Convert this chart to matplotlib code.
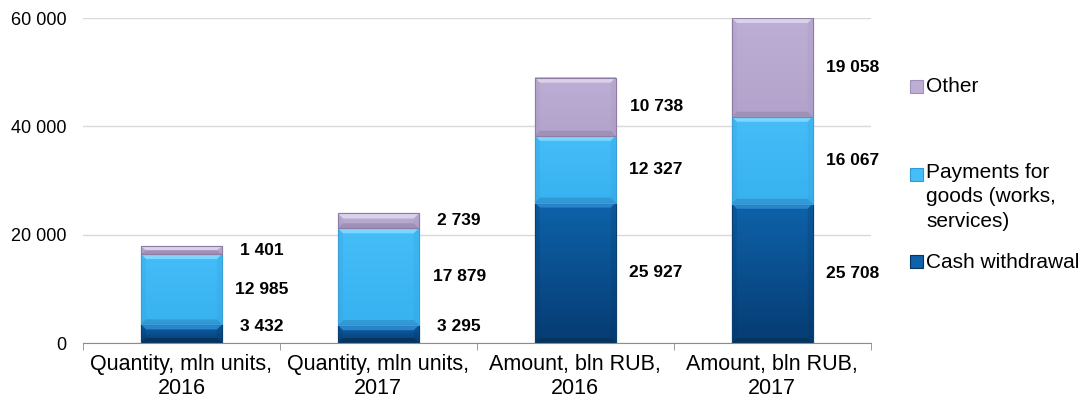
import numpy as np, matplotlib
matplotlib.use("Agg")
import matplotlib.pyplot as plt
from matplotlib.colors import LinearSegmentedColormap
from matplotlib.patches import Polygon, Rectangle
from matplotlib.ticker import FuncFormatter, FixedLocator

plt.rcParams.update({"font.family": ["Liberation Sans", "DejaVu Sans"]})

categories = ["Quantity, mln units,\n2016", "Quantity, mln units,\n2017",
              "Amount, bln RUB,\n2016", "Amount, bln RUB,\n2017"]
cash = [3432, 3295, 25927, 25708]
payments = [12985, 17879, 12327, 16067]
other = [1401, 2739, 10738, 19058]
series_names = ["Cash withdrawal", "Payments for\ngoods (works,\nservices)", "Other"]

# (top, bottom, bevel light, bevel dark, edge)
STYLE = [
    ("#0e62aa", "#063c73", "#2a84cc", "#05345f", "#073f73"),
    ("#44bdf8", "#38b2f0", "#7dd6ff", "#3199d3", "#3a9fd6"),
    ("#bcaed4", "#b3a3cc", "#dcd1ea", "#9f90b8", "#8c7ca6"),
]

fmt = lambda v: f"{v:,.0f}".replace(",", " ")

fig = plt.figure(figsize=(10.83, 4.01), dpi=100)
ax = fig.add_axes([0.0766, 0.1446, 0.7274, 0.8105])
YMAX = 60000
ax.set_ylim(0, YMAX)
ax.set_xlim(-0.5, 3.5)
x = np.arange(len(categories))
W = 0.41

bottoms = np.zeros(len(x))
for k, vals in enumerate([cash, payments, other]):
    top_c, bot_c, light, dark, edge = STYLE[k]
    bars = ax.bar(x, vals, W, bottom=bottoms, color=top_c, edgecolor=edge, lw=0.8, zorder=2)
    cmap = LinearSegmentedColormap.from_list("g", [bot_c, top_c])
    for p in bars.patches:
        x0, y0, w = p.get_x(), p.get_y(), p.get_width()
        y1 = min(y0 + p.get_height(), YMAX)
        ax.imshow(np.linspace(0, 1, 50).reshape(-1, 1), cmap=cmap, origin="lower",
                  extent=(x0, x0 + w, y0, y1), aspect="auto", zorder=2.1)
        bx = 0.025
        by = min(925, (y1 - y0) / 2)
        x1 = x0 + w
        ax.add_patch(Polygon([(x0, y1), (x1, y1), (x1 - bx, y1 - by), (x0 + bx, y1 - by)],
                             closed=True, fc=light, ec="none", zorder=2.2))
        ax.add_patch(Polygon([(x0, y0), (x1, y0), (x1 - bx, y0 + by), (x0 + bx, y0 + by)],
                             closed=True, fc=dark, ec="none", zorder=2.2))
        for pts in ([(x0, y0), (x0, y1), (x0 + bx, y1 - by), (x0 + bx, y0 + by)],
                    [(x1, y0), (x1, y1), (x1 - bx, y1 - by), (x1 - bx, y0 + by)]):
            ax.add_patch(Polygon(pts, closed=True, fc=dark, alpha=0.2, ec="none", zorder=2.2))
        ax.add_patch(Rectangle((x0, y0), w, y1 - y0, fill=False, ec=edge, lw=0.8, zorder=2.3))
    bottoms = bottoms + np.array(vals)

# data labels to the right of each bar, at segment middles (nudged apart when crowded)
for i in range(len(x)):
    segs = [cash[i], payments[i], other[i]]
    base = 0
    ys = []
    for v in segs:
        top = min(base + v, YMAX)
        ys.append((base + top) / 2)
        base += v
    ys[0] = max(ys[0], 3000)
    for j in range(1, 3):
        ys[j] = max(ys[j], ys[j - 1] + 5500)
    for v, yy in zip(segs, ys):
        ax.text(x[i] + 0.41, yy, fmt(v), ha="center", va="center",
                fontsize=12.5, fontweight="bold", color="black")

ax.yaxis.set_major_locator(FixedLocator([0, 20000, 40000, 60000]))
ax.yaxis.set_major_formatter(FuncFormatter(lambda v, _: fmt(v)))
ax.grid(axis="y", color="#d9d9d9", lw=1)
ax.set_axisbelow(True)
for s in ("top", "right", "left"):
    ax.spines[s].set_visible(False)
ax.spines["bottom"].set_color("#8c8c8c")
ax.tick_params(axis="y", length=0, pad=12, labelsize=13)
ax.set_xticks(x)
ax.set_xticklabels(categories, fontsize=15.5, linespacing=1.18)
ax.set_xticks(np.arange(-0.5, 4, 1), minor=True)
ax.tick_params(axis="x", which="major", length=0, pad=8)
ax.tick_params(axis="x", which="minor", length=5, color="#8c8c8c", direction="out")

# legend drawn in figure space (marker sits on the first text line)
text_y = [262, 197, 86]
mark_y = [261, 175, 86]
for k, (name, ty, my) in enumerate(zip(series_names, text_y, mark_y)):
    top_c, bot_c, light, dark, edge = STYLE[k]
    fig.patches.append(Rectangle((910 / 1083, 1 - (my + 6.5) / 401), 13 / 1083, 13 / 401,
                                 transform=fig.transFigure, fc=top_c, ec=dark, lw=0.8))
    fig.text(926 / 1083, 1 - ty / 401, name, ha="left", va="center", fontsize=15,
             linespacing=1.38)

fig.savefig("out.png", facecolor="white")
